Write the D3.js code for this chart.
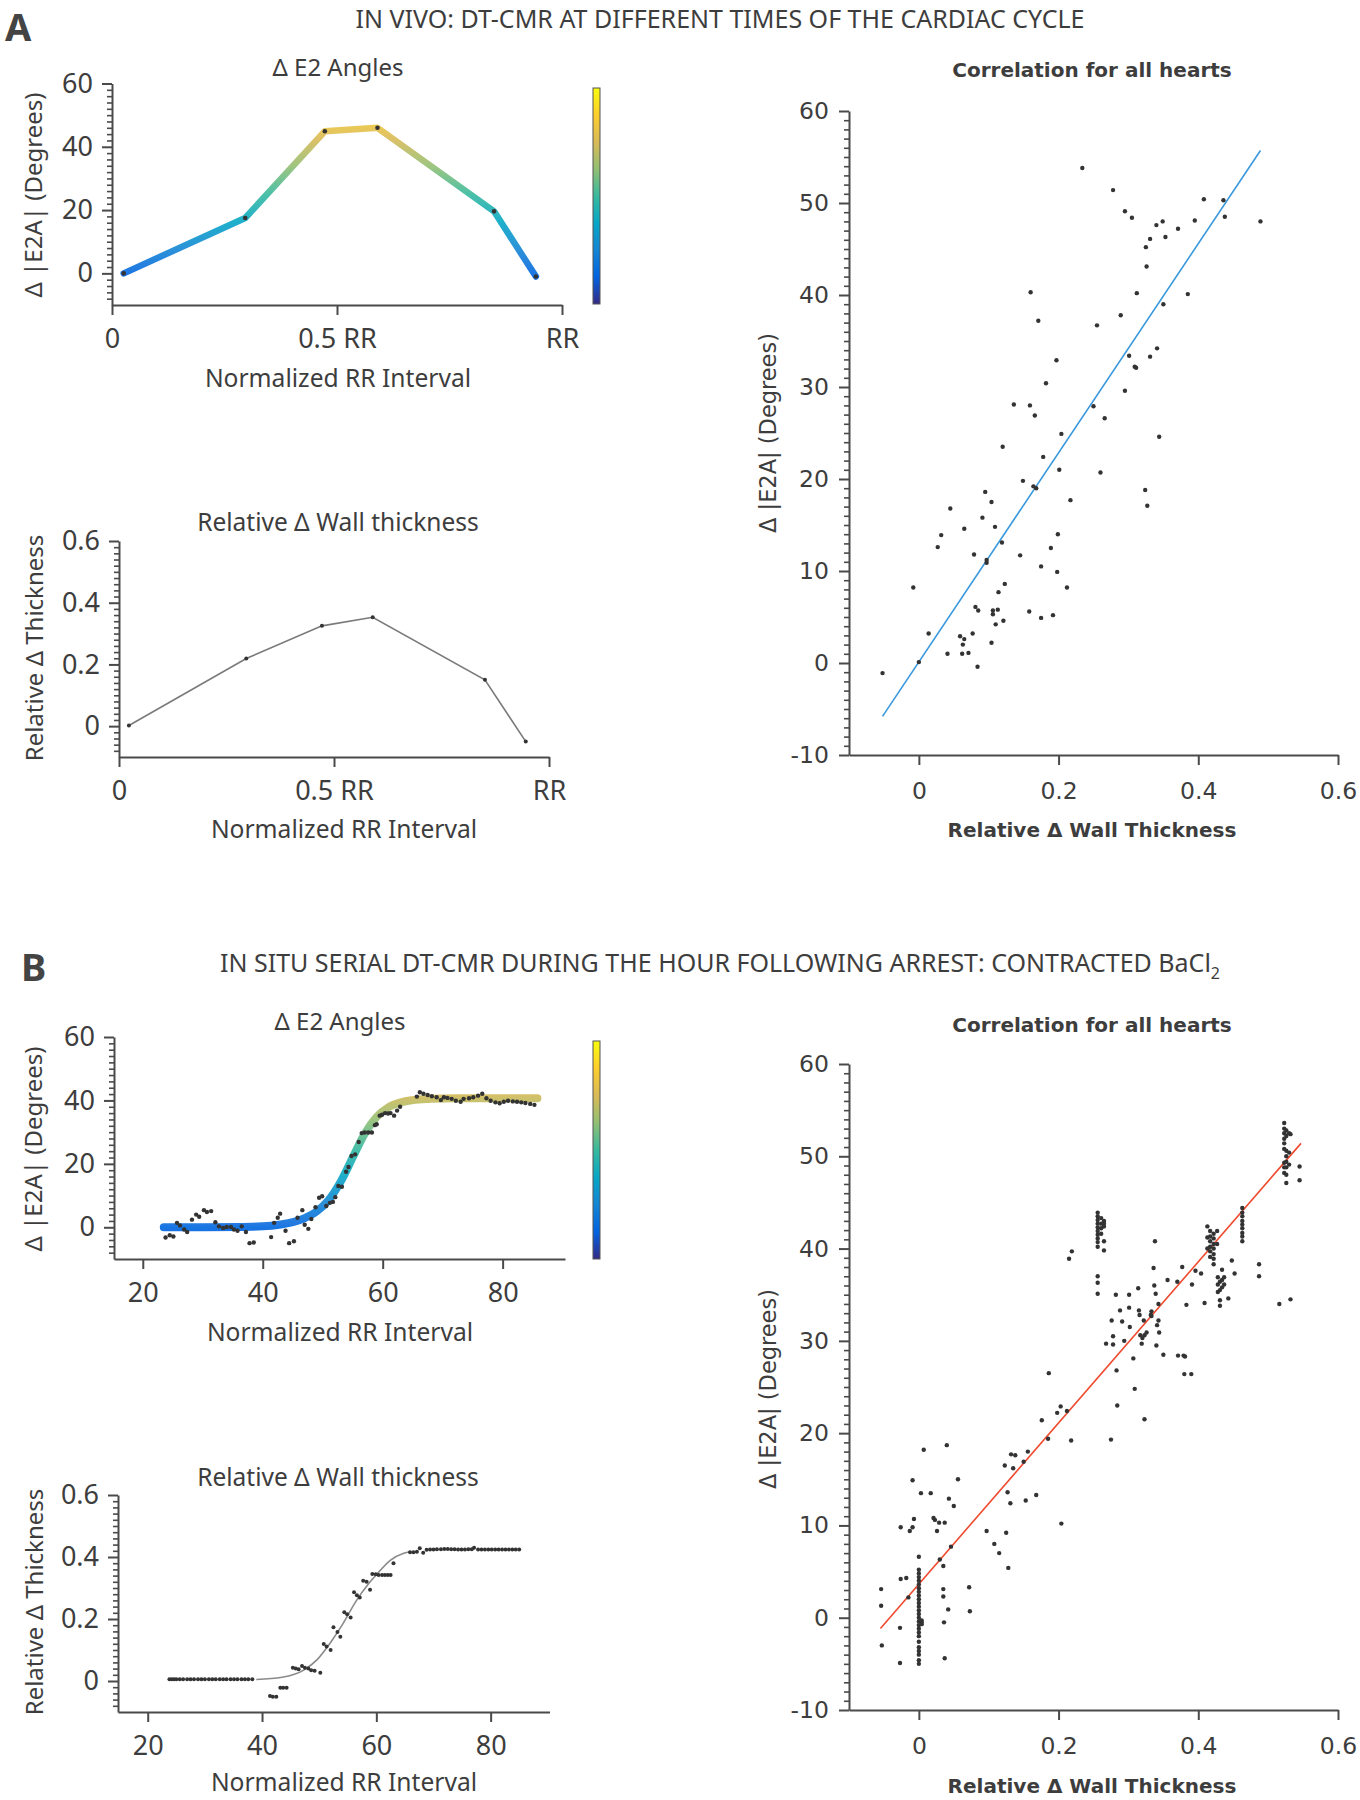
<!DOCTYPE html>
<html><head><meta charset="utf-8">
<script src="https://cdn.jsdelivr.net/npm/d3@7"></script>
<style>body{margin:0;background:#fff}svg{display:block}</style>
</head><body><svg id="c" width="1360" height="1800"></svg>
<script>
// ---------------- DATA ----------------
// Panel A (in vivo)
const a_rr = [0.026, 0.296, 0.473, 0.590, 0.849, 0.942];
const a_e2a = [0, 17.5, 44.9, 46.0, 19.6, -1.0];
const a_rrThick = [0.023, 0.296, 0.472, 0.590, 0.851, 0.946];
const a_thick = [0.002, 0.219, 0.325, 0.353, 0.150, -0.050];
const a_corrX = [-0.052,-0.008,0,0.014,0.027,0.032,0.041,0.045,0.059,0.062,0.063,0.065,0.065,0.071,0.077,0.079,0.081,0.084,0.085,0.091,0.095,0.097,0.097,0.104,0.104,0.106,0.106,0.109,0.110,0.113,0.114,0.119,0.120,0.121,0.123,0.136,0.145,0.149,0.158,0.159,0.160,0.164,0.166,0.168,0.171,0.175,0.175,0.178,0.182,0.189,0.192,0.197,0.198,0.199,0.201,0.204,0.212,0.217,0.234,0.250,0.255,0.260,0.266,0.278,0.289,0.295,0.295,0.301,0.305,0.309,0.311,0.312,0.324,0.325,0.326,0.327,0.331,0.331,0.340,0.341,0.344,0.349,0.350,0.353,0.371,0.385,0.395,0.408,0.436,0.438,0.489];
const a_corrY = [-1.1,8.2,0.1,3.2,12.6,13.9,1.0,16.8,2.9,1.0,2.0,2.6,14.6,1.1,3.2,11.8,6.1,-0.4,5.7,15.8,18.6,11.2,10.9,2.2,17.5,5.7,5.3,14.8,4.2,5.8,7.7,13.1,23.5,4.6,8.6,28.1,11.7,19.8,5.6,28.0,40.3,19.2,26.9,19.0,37.2,4.9,10.5,22.4,30.4,12.5,5.2,32.9,9.9,14.0,21.0,24.9,8.2,17.7,53.8,27.9,36.7,20.7,26.6,51.4,37.8,29.6,49.1,33.4,48.4,32.2,32.1,40.2,18.8,45.2,43.1,17.1,46.1,33.3,47.6,34.2,24.6,48.0,39.0,46.3,47.2,40.1,48.1,50.4,50.3,48.5,48.0];
const a_fitX = [-0.052, 0.489];
const a_fitY = [-5.8, 55.7];

// Panel B (in situ, BaCl2)
const b_e2aX = [23.8,24.5,25.1,25.7,26.2,26.9,27.4,28.2,28.9,29.4,30.2,30.7,31.4,32.1,32.7,33.4,34.0,34.7,35.2,35.8,36.5,37.2,37.8,38.5,41.4,41.9,42.5,42.9,43.8,44.4,45.2,45.8,46.6,47.0,47.6,48.1,48.8,49.4,49.9,50.6,51.2,51.7,52.1,52.6,53.2,53.9,54.3,54.8,55.4,56.0,56.5,57.0,57.6,58.2,58.7,59.0,59.5,59.9,60.4,60.9,61.3,61.9,62.4,62.9,65.7,66.2,66.8,67.5,68.2,69.0,69.7,70.2,70.8,71.5,72.2,73.0,73.5,74.4,75.1,75.9,76.6,77.3,78.0,78.8,79.5,80.2,80.9,81.7,82.4,83.1,83.8,84.6,85.3];
const b_e2aY = [-3.2,-2.5,-2.9,1.4,0.6,-0.7,-1.5,2.4,4.0,3.3,5.4,4.8,5.1,1.6,0.3,-0.2,0.1,0.1,-0.7,-1.1,0.3,-1.5,-5.0,-4.8,-3.1,1.4,3.0,4.3,-1.1,-5.0,-4.4,3.0,5.4,0.8,-0.5,2.6,6.3,9.3,9.8,6.7,7.7,8.0,9.5,13.0,12.8,17.5,19.0,22.5,23.0,26.9,29.7,29.9,29.9,29.9,32.2,32.5,35.2,35.5,36.0,35.9,36.0,35.2,36.8,38.0,41.2,42.6,42.1,41.7,41.3,41.0,40.1,41.0,40.8,40.5,39.9,39.6,40.5,40.7,41.0,41.5,42.1,40.7,39.9,39.4,39.1,39.6,39.9,39.7,39.6,39.4,39.2,38.9,38.6];
const b_e2aCurveX = [23.5,30,36,40,43,45,47,49,51,53,55,57,59,61,63,65,68,72,78,85.8];
const b_e2aCurveY = [0,0,0.1,0.3,0.9,1.6,2.9,5.0,8.6,14.4,22.0,29.5,34.8,37.9,39.4,40.1,40.5,40.7,40.7,40.7];
const b_thickX = [23.8,24.2,24.6,25.0,25.6,26.2,26.9,27.5,28.1,28.8,29.4,30.0,30.7,31.3,31.9,32.6,33.2,33.8,34.5,35.1,35.7,36.4,37.0,37.6,38.3,
  41.4,41.9,42.5,43.2,43.7,44.3,45.4,45.9,46.4,47.0,47.5,48.1,48.6,49.2,50.2,50.8,51.3,52.0,52.5,53.2,53.7,54.4,54.9,55.5,56.1,56.6,57.1,57.7,58.3,58.9,59.3,59.9,60.4,61.0,61.5,62.0,62.5,63.0,
  65.9,66.5,67.1,67.6,68.2,68.8,69.4,70.0,70.6,71.3,71.9,72.5,73.1,73.7,74.3,74.9,75.5,76.1,76.7,77.1,77.8,78.4,79.0,79.6,80.2,80.8,81.4,82.0,82.6,83.2,83.8,84.4,85.0];
const b_thickY = [0.006,0.006,0.006,0.006,0.006,0.006,0.006,0.006,0.006,0.006,0.006,0.006,0.006,0.006,0.006,0.006,0.006,0.006,0.006,0.006,0.006,0.006,0.006,0.006,0.006,
  -0.048,-0.051,-0.051,-0.022,-0.022,-0.022,0.043,0.040,0.038,0.048,0.043,0.040,0.035,0.033,0.027,0.119,0.111,0.100,0.173,0.158,0.143,0.222,0.215,0.205,0.286,0.277,0.269,0.323,0.320,0.294,0.345,0.344,0.342,0.342,0.342,0.342,0.342,0.380,
  0.415,0.415,0.417,0.428,0.414,0.423,0.424,0.424,0.425,0.425,0.426,0.426,0.425,0.425,0.424,0.424,0.424,0.425,0.425,0.430,0.424,0.424,0.424,0.424,0.424,0.424,0.424,0.424,0.424,0.424,0.424,0.424,0.424];
const b_thickCurveX = [39.0,43.5,47.3,49.6,51.9,54.2,56.4,58.7,60.2,62.5,64.8,65.9];
const b_thickCurveY = [0.005,0.012,0.035,0.068,0.122,0.186,0.256,0.315,0.347,0.390,0.412,0.417];
const b_corrX = [-0.054,-0.054,-0.053,-0.027,-0.027,-0.026,-0.026,-0.018,-0.015,-0.013,-0.009,-0.009,-0.007,0.003,0.007,0.017,0.021,0.023,0.026,0.029,0.030,0.037,0.035,0.035,0.035,0.036,0.037,0.040,0.042,0.043,0.046,0.050,0.056,0.072,0.073,
  0,0,0,0,0,0,0,0,0,0,0,0,0,0,0,0,0,0,0,0,0,0,0,0,0,0,0.004,0.004,0.004,
  0.097,0.108,0.115,0.123,0.125,0.127,0.128,0.131,0.132,0.135,0.138,0.150,0.153,0.156,0.168,0.176,0.185,0.186,0.198,0.203,0.204,0.212,0.215,0.219,0.218,
  0.256,0.256,0.256,0.256,0.256,0.256,0.256,0.256,0.256,0.256,0.261,0.261,0.261,0.261,0.265,0.265,0.265,0.265,0.265,0.256,0.256,0.256,
  0.268,0.275,0.276,0.278,0.278,0.282,0.283,0.284,0.288,0.291,0.294,0.301,0.301,0.302,0.307,0.309,0.314,0.315,0.316,0.317,0.319,0.320,0.322,0.323,0.323,0.326,0.332,0.333,0.333,0.336,0.337,0.338,0.339,0.340,0.341,0.343,0.343,0.344,0.350,0.356,0.370,0.371,0.377,0.379,0.381,0.380,0.383,0.390,0.391,0.396,0.404,0.409,
  0.413,0.413,0.413,0.417,0.417,0.417,0.417,0.417,0.417,0.422,0.422,0.422,0.422,0.422,0.422,0.422,0.427,0.427,
  0.428,0.428,0.428,0.431,0.431,0.431,0.431,0.434,0.434,0.434,0.437,0.437,
  0.443,0.448,0.452,
  0.463,0.463,0.463,0.463,0.463,0.463,0.463,0.463,0.463,
  0.487,0.487,0.516,0.532,
  0.523,0.523,0.523,0.523,0.523,0.523,0.523,0.523,0.523,0.526,0.526,0.526,0.526,0.526,0.526,0.526,0.526,0.530,0.530,0.530,0.532,0.545,0.545];
const b_corrY = [3.1,1.3,-3.0,-4.9,-1.1,9.8,4.2,4.3,2.2,9.4,9.8,14.9,10.7,13.5,18.2,13.5,10.8,10.6,9.4,10.3,6.3,10.3,5.6,3.1,2.3,-0.5,-4.4,18.7,0.9,12.9,7.7,12.1,15.0,3.3,0.7,
  6.6,5.2,4.8,4.4,4.0,3.6,3.2,2.8,2.4,2.0,1.6,1.2,0.8,0.4,0,-0.4,-0.8,-1.2,-1.6,-2.0,-2.6,-3.2,-3.6,-4.0,-4.6,-5.0,-0.3,-0.5,-0.7,
  9.4,8.0,7.0,16.5,9.2,13.6,5.4,12.4,17.7,16.2,17.6,16.9,12.7,18.0,13.3,21.4,19.4,26.5,22.2,22.9,10.2,22.4,38.9,39.7,19.2,
  43.9,43.5,43.1,42.7,42.3,41.9,41.5,41.1,40.7,40.2,43.3,42.7,42.2,41.6,43.0,42.7,42.4,40.8,39.8,37.0,36.3,35.1,
  29.7,19.3,32.2,29.6,30.5,35.0,26.8,23.0,33.3,32.1,30.0,35.0,33.6,31.5,28.1,24.8,35.7,33.3,32.8,30.6,29.7,30.3,32.2,21.5,30.6,30.9,32.8,33.2,32.7,37.9,36.0,40.8,35.1,29.5,31.7,34.0,32.2,30.9,28.5,36.6,36.4,28.4,38.0,28.4,28.3,26.4,33.9,26.4,36.1,37.6,37.3,34.1,
  42.4,41.2,40.0,41.9,41.3,40.8,40.2,39.7,39.1,41.6,41.1,40.5,40.0,39.4,38.9,38.3,41.9,40.5,
  36.9,36.1,35.3,36.4,35.5,34.4,33.8,37.7,36.6,35.8,36.9,36.1,
  34.6,38.7,37.3,
  44.4,43.9,43.5,43.0,42.6,42.2,41.7,41.3,40.8,
  38.3,37.0,34.0,34.5,
  53.6,53.0,52.5,51.9,51.4,50.8,49.3,48.8,48.2,52.8,52.2,50.6,50.0,49.4,48.8,48.0,47.1,52.5,50.4,49.1,52.4,48.9,47.4];
const b_fitX = [-0.055, 0.547];
const b_fitY = [-1.16, 51.4];

// Ticks
const e2aTicks = [0, 20, 40, 60];
const thickTicks = [0, 0.2, 0.4, 0.6];
const thickTickLabels = ["0", "0.2", "0.4", "0.6"];
const rrTicks = [0, 0.5, 1];
const rrTickLabels = ["0", "0.5 RR", "RR"];
const bRRTicks = [20, 40, 60, 80];
const corrYTicks = [-10, 0, 10, 20, 30, 40, 50, 60];
const corrYTickLabels = ["-10", "0", "10", "20", "30", "40", "50", "60"];
const corrXTicks = [0, 0.2, 0.4, 0.6];
const corrXTickLabels = ["0", "0.2", "0.4", "0.6"];
const parula = ["#352a87","#0363e1","#1485d4","#06a7c6","#38b99e","#92bf73","#d9ba56","#fcce2e","#f9fb0e"];

// ---------------- DRAW ----------------
const svg = d3.select("#c");
svg.append("rect").attr("width",1360).attr("height",1800).attr("fill","#fff");
const defs = svg.append("defs");
const TXT = "#3d3d3d", AX = "#4a4a4a";
const FL = "'Noto Sans','Open Sans',sans-serif";
const FR = "'DejaVu Sans',Verdana,sans-serif";

defs.append("filter").attr("id","soft").append("feGaussianBlur").attr("stdDeviation",0.7);

function gradient(id, attrs) {
  const g = defs.append("linearGradient").attr("id", id);
  Object.entries(attrs).forEach(([k,v]) => g.attr(k, v));
  parula.forEach((c,i) => g.append("stop").attr("offset", i/(parula.length-1)).attr("stop-color", c));
}

function text(x, y, s, o) {
  const t = svg.append("text").attr("x", x).attr("y", y).text(s)
    .attr("fill", o.fill || TXT).style("font-family", o.ff).style("font-size", o.fs + "px")
    .attr("text-anchor", o.anchor || "middle");
  if (o.weight) t.style("font-weight", o.weight);
  if (o.rot) t.attr("transform", `rotate(-90,${x},${y})`);
  return t;
}

function styleAxis(ax, ff, fs, sw) {
  ax.attr("font-family", null).attr("font-size", null);
  ax.selectAll("line,path").attr("stroke", AX).attr("stroke-width", sw);
  ax.selectAll("text").attr("fill", TXT).style("font-family", ff).style("font-size", fs + "px");
}

function axes(x, y, yMaj, yMin, yFmt, xMaj, xFmt, o) {
  const [y0] = y.domain();
  const x0 = x.domain()[0];
  const gx = svg.append("g").attr("transform", `translate(0,${y(y0)})`)
    .call(d3.axisBottom(x).tickValues(xMaj).tickSize(10).tickSizeOuter(0).tickPadding(o.xpad).tickFormat(xFmt));
  styleAxis(gx, o.ff, o.fs, 2);
  const gm = svg.append("g").attr("transform", `translate(${x(x0)},0)`)
    .call(d3.axisLeft(y).tickValues(yMin).tickSize(o.minor).tickFormat(""));
  gm.select(".domain").remove();
  gm.selectAll("line").attr("stroke", AX).attr("stroke-width", 1.6);
  const gy = svg.append("g").attr("transform", `translate(${x(x0)},0)`)
    .call(d3.axisLeft(y).tickValues(yMaj).tickSize(10).tickSizeOuter(0).tickPadding(o.ypad).tickFormat(yFmt));
  styleAxis(gy, o.ff, o.fs, 2);
}

function minorRange(a, b, step, majors) {
  return d3.range(a, b + step/2, step).filter(v => !majors.some(m => Math.abs(m - v) < step/4));
}

const leftOpts = {ff: FL, fs: 27, minor: 5, xpad: 14, ypad: 9};
const rightOpts = {ff: FR, fs: 23.5, minor: 5, xpad: 17, ypad: 10};

// Panel letters and titles
text(5, 41, "A", {ff: FL, fs: 38, weight: 700, anchor: "start", fill: "#444"});
text(720, 28, "IN VIVO: DT-CMR AT DIFFERENT TIMES OF THE CARDIAC CYCLE", {ff: FL, fs: 25});
text(21, 981, "B", {ff: FL, fs: 38, weight: 700, anchor: "start", fill: "#444"});
const tb = text(720, 972, "IN SITU SERIAL DT-CMR DURING THE HOUR FOLLOWING ARREST: CONTRACTED BaCl", {ff: FL, fs: 25});
tb.append("tspan").attr("dy", 7).style("font-size", "16px").text("2");

// ---- colour bar + gradient for E2A panels
function e2aPanel(id, x, y, cbY, cbH) {
  gradient(id, {gradientUnits: "userSpaceOnUse", x1: 0, x2: 0, y1: y(-10), y2: y(60)});
  gradient(id + "cb", {x1: 0, x2: 0, y1: 1, y2: 0});
  svg.append("rect").attr("x", 593).attr("y", cbY).attr("width", 7).attr("height", cbH)
    .attr("fill", `url(#${id}cb)`).attr("stroke", "#555").attr("stroke-width", 1);
}

// ---- E2A line panel (A)
{
  const x = d3.scaleLinear([0, 1], [112, 562]);
  const y = d3.scaleLinear([-10, 60], [305, 83.5]);
  e2aPanel("gA", x, y, 88, 216);
  axes(x, y, e2aTicks, minorRange(-8, 58, 2, e2aTicks), d3.format("d"), rrTicks, (d,i) => rrTickLabels[i], leftOpts);
  const pts = a_rr.map((v,i) => [v, a_e2a[i]]);
  svg.append("path").datum(pts).attr("fill", "none").attr("stroke", "url(#gA)").attr("stroke-width", 6.5)
    .attr("stroke-linecap", "round").attr("stroke-linejoin", "round").attr("opacity", 0.9)
    .attr("d", d3.line().x(d => x(d[0])).y(d => y(d[1])));
  svg.append("g").selectAll("circle").data(pts).join("circle")
    .attr("cx", d => x(d[0])).attr("cy", d => y(d[1])).attr("r", 2.3).attr("fill", "#333");
  text(338, 76, "\u0394 E2 Angles", {ff: FL, fs: 24});
  text(338, 387, "Normalized RR Interval", {ff: FL, fs: 24.6});
  text(42, 195, "\u0394 |E2A| (Degrees)", {ff: FL, fs: 24, rot: true});
}

// ---- Thickness panel (A)
{
  const x = d3.scaleLinear([0, 1], [119, 549]);
  const y = d3.scaleLinear([-0.1, 0.6], [757, 541]);
  axes(x, y, thickTicks, minorRange(-0.08, 0.58, 0.02, thickTicks), (d,i) => thickTickLabels[i], rrTicks, (d,i) => rrTickLabels[i], leftOpts);
  const pts = a_rrThick.map((v,i) => [v, a_thick[i]]);
  svg.append("path").datum(pts).attr("fill", "none").attr("stroke", "#7a7a7a").attr("stroke-width", 1.6)
    .attr("d", d3.line().x(d => x(d[0])).y(d => y(d[1])));
  svg.append("g").selectAll("circle").data(pts).join("circle")
    .attr("cx", d => x(d[0])).attr("cy", d => y(d[1])).attr("r", 2).attr("fill", "#333");
  text(338, 531, "Relative \u0394 Wall thickness", {ff: FL, fs: 24.5});
  text(344, 838, "Normalized RR Interval", {ff: FL, fs: 24.6});
  text(43, 648, "Relative \u0394 Thickness", {ff: FL, fs: 24, rot: true});
}

// ---- Scatter panels
function scatter(yTop, yBot, xs, ys, fx, fy, lineColor, titleY, xlabY, ylabY) {
  const x = d3.scaleLinear([-0.1, 0.6], [849, 1338]);
  const y = d3.scaleLinear([-10, 60], [yBot, yTop]);
  axes(x, y, corrYTicks, minorRange(-9, 59, 1, corrYTicks), (d,i) => corrYTickLabels[i], corrXTicks, (d,i) => corrXTickLabels[i], rightOpts);
  svg.append("line").attr("x1", x(fx[0])).attr("y1", y(fy[0])).attr("x2", x(fx[1])).attr("y2", y(fy[1]))
    .attr("stroke", lineColor).attr("stroke-width", 1.6);
  svg.append("g").selectAll("circle").data(xs.map((v,i) => [v, ys[i]])).join("circle")
    .attr("cx", d => x(d[0])).attr("cy", d => y(d[1])).attr("r", 2.2).attr("fill", "#333");
  text(1092, titleY, "Correlation for all hearts", {ff: FR, fs: 20, weight: 700});
  text(1092, xlabY, "Relative \u0394 Wall Thickness", {ff: FR, fs: 20, weight: 700});
  text(776, ylabY, "\u0394 |E2A| (Degrees)", {ff: FR, fs: 22.5, rot: true});
}
scatter(111, 755, a_corrX, a_corrY, a_fitX, a_fitY, "#3a98dc", 77, 837, 433);
scatter(1064, 1710, b_corrX, b_corrY, b_fitX, b_fitY, "#f04a2e", 1032, 1793, 1389);

// ---- E2A sigmoid panel (B)
{
  const x = d3.scaleLinear([15.2, 90.4], [114, 565]);
  const y = d3.scaleLinear([-10, 60], [1259, 1037]);
  e2aPanel("gB", x, y, 1041, 218);
  axes(x, y, e2aTicks, minorRange(-8, 58, 2, e2aTicks), d3.format("d"), bRRTicks, d3.format("d"), leftOpts);
  const curve = b_e2aCurveX.map((v,i) => [v, b_e2aCurveY[i]]);
  svg.append("path").datum(curve).attr("fill", "none").attr("stroke", "url(#gB)").attr("stroke-width", 8)
    .attr("stroke-linecap", "round").attr("opacity", 0.9).attr("filter", "url(#soft)")
    .attr("d", d3.line().curve(d3.curveMonotoneX).x(d => x(d[0])).y(d => y(d[1])));
  svg.append("g").selectAll("circle").data(b_e2aX.map((v,i) => [v, b_e2aY[i]])).join("circle")
    .attr("cx", d => x(d[0])).attr("cy", d => y(d[1])).attr("r", 2.2).attr("fill", "#333");
  text(340, 1030, "\u0394 E2 Angles", {ff: FL, fs: 24});
  text(340, 1341, "Normalized RR Interval", {ff: FL, fs: 24.6});
  text(42, 1149, "\u0394 |E2A| (Degrees)", {ff: FL, fs: 24, rot: true});
}

// ---- Thickness sigmoid panel (B)
{
  const x = d3.scaleLinear([14.8, 90.3], [118, 549.5]);
  const y = d3.scaleLinear([-0.1, 0.6], [1712, 1495]);
  axes(x, y, thickTicks, minorRange(-0.08, 0.58, 0.02, thickTicks), (d,i) => thickTickLabels[i], bRRTicks, d3.format("d"), leftOpts);
  const curve = b_thickCurveX.map((v,i) => [v, b_thickCurveY[i]]);
  svg.append("path").datum(curve).attr("fill", "none").attr("stroke", "#8a8a8a").attr("stroke-width", 1.6)
    .attr("d", d3.line().curve(d3.curveMonotoneX).x(d => x(d[0])).y(d => y(d[1])));
  svg.append("g").selectAll("circle").data(b_thickX.map((v,i) => [v, b_thickY[i]])).join("circle")
    .attr("cx", d => x(d[0])).attr("cy", d => y(d[1])).attr("r", 2).attr("fill", "#333");
  text(338, 1486, "Relative \u0394 Wall thickness", {ff: FL, fs: 24.5});
  text(344, 1791, "Normalized RR Interval", {ff: FL, fs: 24.6});
  text(43, 1602, "Relative \u0394 Thickness", {ff: FL, fs: 24, rot: true});
}
</script></body></html>
